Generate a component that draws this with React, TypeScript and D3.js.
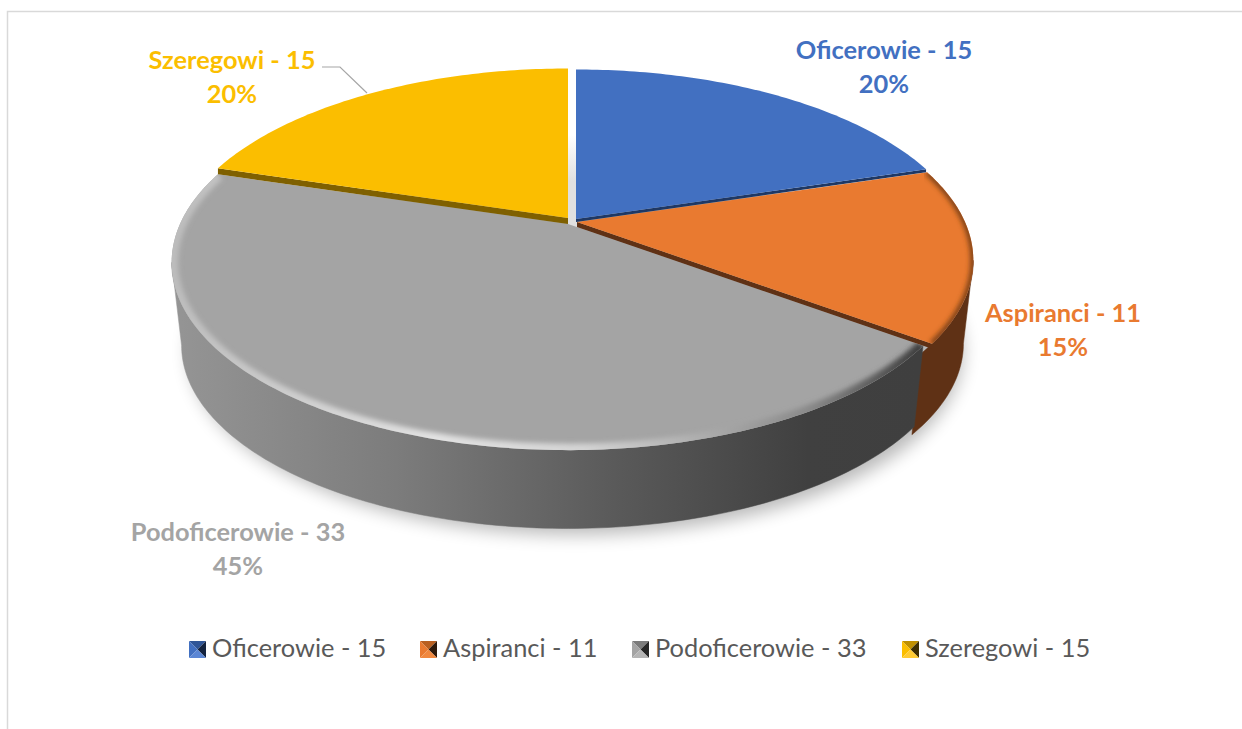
import React from "react";
import * as d3 from "d3";

const categories = ["Oficerowie - 15", "Aspiranci - 11", "Podoficerowie - 33", "Szeregowi - 15"];
const values = [15, 11, 33, 15];
const percents = ["20%", "15%", "45%", "20%"];
const colors = ["#4270c1", "#e97a30", "#a4a4a4", "#fbbe00"];
const wallColors = ["#1f3864", "#5f3115", "#3f3f3f", "#7f6000"];
const sideColors = ["#1f3864", "#5f3115", "url(#graySide)", "#7f6000"];
const offsets: [number, number][] = [[0, -1], [1, 2], [-8, 4], [-8, -2]];
const wallDepth = [3, 5, 0, 6];
const sideExtend = [0, 0.055, 0, 0];
const labelPos: [number, number][] = [[884, 59], [1063, 322], [238, 541], [232, 69]];
const legendKeys = [189, 420, 632, 902];
const legendText = [212, 443, 655, 925];
const drawOrder = [2, 1, 0, 3];

const CX = 576, CY = 220, R = 388, K = 180, P = 0.204;
const DY = 84, S = 0.975;
const LABEL_FONT = "Lato, 'Open Sans', sans-serif";

function project(a: number, off: [number, number], bottom = false) {
  const u = Math.sin(a), v = -Math.cos(a);
  const d = 1 - P * v;
  const s = bottom ? S : 1;
  return [CX + off[0] + (R * s * u) / d, CY + off[1] + (bottom ? DY : 0) + (K * s * v) / d] as [number, number];
}
const line = d3.line();
function sampled(a0: number, a1: number) {
  const n = Math.max(2, Math.ceil(Math.abs(a1 - a0) * 60));
  return d3.range(n + 1).map((i) => a0 + ((a1 - a0) * i) / n);
}
const TAN_R = Math.acos(-P), TAN_L = 2 * Math.PI - TAN_R;

function Key({ x, color, dark, light, deep }: any) {
  const y = 641, s = 17, cx = x + s / 2, cy = y + s / 2;
  const tri = (pts: number[][], fill: string) => (
    <polygon points={pts.map((p) => p.join(",")).join(" ")} fill={fill} />
  );
  return (
    <g>
      {tri([[x, y], [x + s, y], [cx, cy]], dark)}
      {tri([[x, y], [x, y + s], [cx, cy]], color)}
      {tri([[x + s, y], [x + s, y + s], [cx, cy]], deep)}
      {tri([[x, y + s], [x + s, y + s], [cx, cy]], light)}
    </g>
  );
}
const keyDark = ["#2f5597", "#b85f20", "#7b7b7b", "#bf9000"];
const keyLight = ["#5b86d4", "#f0883f", "#b5b5b5", "#ffcb33"];
const keyDeep = ["#14233f", "#2e1809", "#262626", "#3d2e00"];

export default function App() {
  const arcs = d3.pie<number>().sort(null).startAngle(0).endAngle(2 * Math.PI)(values);
  const topPath = (i: number) => {
    const s = arcs[i], o = offsets[i];
    const pts = sampled(s.startAngle, s.endAngle).map((a) => project(a, o));
    return line([[CX + o[0], CY + o[1]], ...pts]) + "Z";
  };
  const rimPath = (i: number) => {
    const s = arcs[i];
    return line(sampled(s.startAngle, s.endAngle).map((a) => project(a, offsets[i]))) as string;
  };
  const sidePath = (i: number) => {
    const s = arcs[i], o = offsets[i];
    const a0 = Math.max(s.startAngle, TAN_R), a1 = Math.min(s.endAngle + sideExtend[i], TAN_L);
    if (a1 <= a0) return "";
    const as = sampled(a0, a1);
    return line([...as.map((a) => project(a, o)), ...as.slice().reverse().map((a) => project(a, o, true))]) + "Z";
  };
  const wallPath = (i: number) => {
    const s = arcs[i], o = offsets[i], w = wallDepth[i];
    const edge = i === 3 ? s.startAngle : s.endAngle;
    const p = project(edge, o);
    const c: [number, number] = [CX + o[0], CY + o[1]];
    return line([p, c, [c[0], c[1] + w], [p[0], p[1] + w]]) + "Z";
  };
  const shadowPts = sampled(0, 2 * Math.PI).map((a) => {
    const p = project(a, [0, 0], true);
    return [p[0], p[1] + 10] as [number, number];
  });

  return (
    <svg width={1242} height={729} style={{ position: "absolute", left: 0, top: 0, background: "#fff" }}>
      <defs>
        <linearGradient id="graySide" gradientUnits="userSpaceOnUse" x1={172} x2={920} y1={0} y2={0}>
          <stop offset="0" stopColor="#959595" />
          <stop offset="0.3" stopColor="#7c7c7c" />
          <stop offset="0.6" stopColor="#595959" />
          <stop offset="0.85" stopColor="#404040" />
          <stop offset="1" stopColor="#3f3f3f" />
        </linearGradient>
        <linearGradient id="grayRim" gradientUnits="userSpaceOnUse" x1={172} x2={920} y1={0} y2={0}>
          <stop offset="0" stopColor="#bcbcbc" />
          <stop offset="0.35" stopColor="#e2e2e2" />
          <stop offset="0.55" stopColor="#d4d4d4" />
          <stop offset="0.85" stopColor="#8a8a8a" />
          <stop offset="1" stopColor="#3f3f3f" />
        </linearGradient>
        <linearGradient id="gapFill" x1="0" x2="0" y1="0" y2="1">
          <stop offset="0" stopColor="#ffffff" />
          <stop offset="0.5" stopColor="#e0e0e0" />
          <stop offset="1" stopColor="#e0e0e0" />
        </linearGradient>
        <filter id="soft" x="-10%" y="-10%" width="120%" height="120%">
          <feGaussianBlur stdDeviation="9" />
        </filter>
        <filter id="rimBlur" x="-5%" y="-5%" width="110%" height="110%">
          <feGaussianBlur stdDeviation="2.5" />
        </filter>
        {arcs.map((_, i) => (
          <clipPath id={`clip${i}`} key={i}>
            <path d={topPath(i)} />
          </clipPath>
        ))}
      </defs>

      <path d="M7.5 729V11.5H1242" fill="none" stroke="#d9d9d9" strokeWidth={1.5} />

      <path d={(line(shadowPts) as string) + "Z"} fill="#000" opacity={0.28} filter="url(#soft)" />

      <rect x={567} y={135} width={10} height={92} fill="url(#gapFill)" />

      {[1, 2].map((i) => (
        <path key={i} d={sidePath(i)} fill={sideColors[i]} stroke={sideColors[i]} strokeWidth={0.5} />
      ))}

      {drawOrder.map((i) => (
        <g key={i}>
          {wallDepth[i] > 0 && <path d={wallPath(i)} fill={wallColors[i]} />}
          <path d={topPath(i)} fill={colors[i]} />
          {i === 2 && (
            <g clipPath="url(#clip2)">
              <path d={rimPath(2)} fill="none" stroke="url(#grayRim)" strokeWidth={13} filter="url(#rimBlur)" />
            </g>
          )}
          {i === 1 && (
            <g clipPath="url(#clip1)">
              <path d={rimPath(1)} fill="none" stroke="#7a3f18" strokeWidth={6} filter="url(#rimBlur)" />
            </g>
          )}
        </g>
      ))}

      <path d="M322 67H340L367 93" fill="none" stroke="#a6a6a6" strokeWidth={1.2} />

      {categories.map((c, i) => (
        <text key={c} textAnchor="middle" fontFamily={LABEL_FONT} fontWeight={700} fontSize={25.4} fill={colors[i]}>
          <tspan x={labelPos[i][0]} y={labelPos[i][1]}>{c}</tspan>
          <tspan x={labelPos[i][0]} dy={34}>{percents[i]}</tspan>
        </text>
      ))}

      {categories.map((c, i) => (
        <g key={c}>
          <Key x={legendKeys[i]} color={colors[i]} dark={keyDark[i]} light={keyLight[i]} deep={keyDeep[i]} />
          <text x={legendText[i]} y={657} fontFamily={LABEL_FONT} fontSize={25.4} fill="#595959">{c}</text>
        </g>
      ))}
    </svg>
  );
}
